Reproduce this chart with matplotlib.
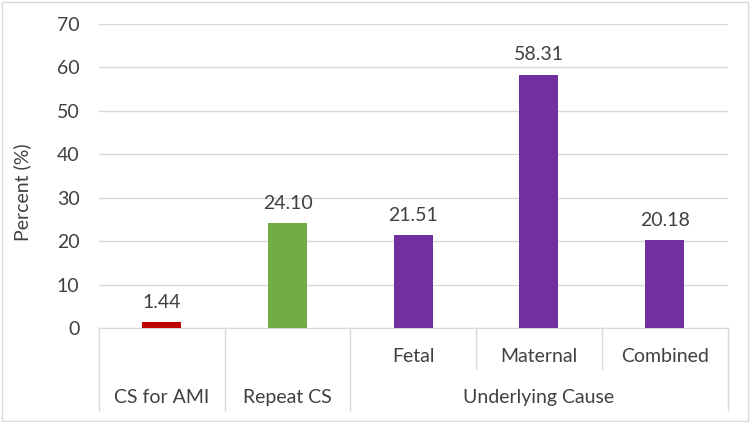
import matplotlib
matplotlib.use("Agg")
import matplotlib.pyplot as plt
import matplotlib.transforms as mtransforms
from matplotlib.patches import Rectangle

# data
cats = ['CS for AMI', 'Repeat CS', 'Fetal', 'Maternal', 'Combined']
values = [1.44, 24.10, 21.51, 58.31, 20.18]
colors = ['#C00000', '#70AD47', '#7030A0', '#7030A0', '#7030A0']
sub_labels = ['Fetal', 'Maternal', 'Combined']
group_labels = ['CS for AMI', 'Repeat CS', 'Underlying Cause']

plt.rcParams['font.family'] = ['Lato', 'DejaVu Sans']
txt = '#404040'
grid = '#D9D9D9'
fs = 14

fig = plt.figure(figsize=(7.5, 4.22), dpi=100)
ax = fig.add_axes([0.132, 0.222, 0.838, 0.722])

x = list(range(len(cats)))
bars = ax.bar(x, values, width=0.31, color=colors, zorder=3)
for xi, v in zip(x, values):
    ax.annotate('%.2f' % v, (xi, v), xytext=(0, 8), textcoords='offset points',
                ha='center', va='bottom', fontsize=fs, color=txt)

ax.set_xlim(-0.5, 4.5)
ax.set_ylim(0, 70)
ax.set_yticks(range(0, 71, 10))
ax.yaxis.grid(True, color=grid, lw=1, zorder=0)
ax.tick_params(axis='y', length=0, pad=14, labelsize=fs, labelcolor=txt)
ax.set_xticks([])
for s in ['top', 'right', 'left']:
    ax.spines[s].set_visible(False)
ax.spines['bottom'].set_color(grid)

# hierarchical category axis
tr = mtransforms.blended_transform_factory(ax.transData, ax.transAxes)
for xl in [-0.5, 0.5, 1.5, 4.5]:
    ax.plot([xl, xl], [0, -0.268], color=grid, lw=1, transform=tr, clip_on=False)
for xl in [2.5, 3.5]:
    ax.plot([xl, xl], [0, -0.134], color=grid, lw=1, transform=tr, clip_on=False)
for xi, lab in zip([2, 3, 4], sub_labels):
    ax.text(xi, -0.094, lab, transform=tr, ha='center', va='center', fontsize=fs, color=txt)
for xi, lab in zip([0, 1, 3], group_labels):
    ax.text(xi, -0.227, lab, transform=tr, ha='center', va='center', fontsize=fs, color=txt)

fig.text(22 / 750, 1 - 192 / 422, 'Percent (%)', rotation=90, ha='center', va='center',
         fontsize=fs, color=txt)

fig.patches.append(Rectangle((0.002, 0.003), 0.995, 0.993, transform=fig.transFigure,
                             fill=False, edgecolor=grid, lw=1))

fig.savefig('out.png', dpi=100)
